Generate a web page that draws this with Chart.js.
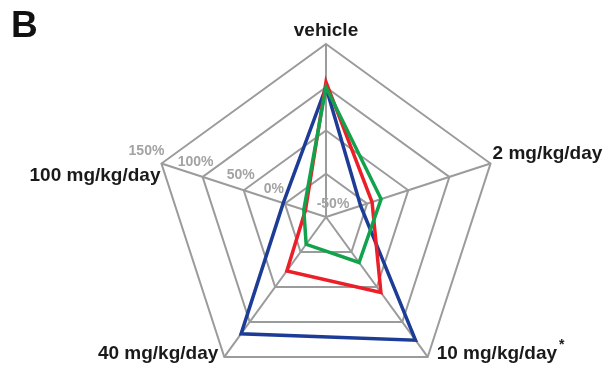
<!DOCTYPE html>
<html>
<head>
<meta charset="utf-8">
<script src="https://cdn.jsdelivr.net/npm/chart.js@4/dist/chart.umd.min.js"></script>
<style>
    html, body { margin: 0; padding: 0; background: #fff; overflow: hidden; width: 608px; height: 370px; }
    #wrap { position: relative; width: 608px; height: 391px; }
</style>
</head>
<body>
<div id="wrap"><canvas id="radar" width="608" height="391"></canvas></div>
<script>
// ----- Data -----
const axisLabels = ['vehicle', '2 mg/kg/day', '10 mg/kg/day', '40 mg/kg/day', '100 mg/kg/day'];
const tickValues = [-50, 0, 50, 100, 150];
const redValues = [106, 6, 58, 27, -25];
const blueValues = [100, -8, 126, 117, 2];
const greenValues = [100, 17, 15, -11, -23];

// ----- Label placement (offset from the vertex) -----
const labelStyle = [
    { align: 'center', dx: 0, dy: -13 },
    { align: 'left', dx: 2, dy: -10 },
    { align: 'left', dx: 9, dy: -3 },
    { align: 'right', dx: -6, dy: -3 },
    { align: 'right', dx: -1, dy: 12 },
];
const tickShiftX = [7, -11, -3, -7, -15];
const tickShiftY = [-13, -14, -15, -15, -12];

// ----- Plugins -----
const panelLetter = {
    id: 'panelLetter',
    afterDraw(chart) {
        const c = chart.ctx;
        c.save();
        c.fillStyle = '#111';
        c.font = 'bold 37px "Liberation Sans", Arial, sans-serif';
        c.textAlign = 'left';
        c.textBaseline = 'alphabetic';
        c.fillText('B', 11, 37);
        c.restore();
    }
};

const axisText = {
    id: 'axisText',
    afterDraw(chart) {
        const scale = chart.scales.r;
        const c = chart.ctx;
        c.save();

        // tick labels along the 100 mg/kg/day axis
        c.fillStyle = '#a3a3a3';
        c.font = 'bold 14px "Liberation Sans", Arial, sans-serif';
        c.textAlign = 'center';
        c.textBaseline = 'middle';
        tickValues.forEach((v, i) => {
            const p = scale.getPointPositionForValue(4, v);
            c.fillText(v + '%', p.x + tickShiftX[i], p.y + tickShiftY[i]);
        });

        // category labels
        c.fillStyle = '#1a1a1a';
        c.font = 'bold 19px "Liberation Sans", Arial, sans-serif';
        c.textBaseline = 'middle';
        axisLabels.forEach((label, i) => {
            const p = scale.getPointPosition(i, scale.drawingArea);
            const s = labelStyle[i];
            c.textAlign = s.align;
            c.fillText(label, p.x + s.dx, p.y + s.dy);
            if (i === 2) {
                const w = c.measureText(label).width;
                c.font = 'bold 14px "Liberation Sans", Arial, sans-serif';
                c.textAlign = 'left';
                c.fillText('*', p.x + s.dx + w + 2, p.y + s.dy - 9);
                c.font = 'bold 19px "Liberation Sans", Arial, sans-serif';
            }
        });
        c.restore();
    }
};

// ----- Chart -----
function makeSet(values, color) {
    return {
        data: values,
        borderColor: color,
        borderWidth: 3.5,
        backgroundColor: 'transparent',
        fill: false,
        pointRadius: 0,
        pointHoverRadius: 0,
        borderJoinStyle: 'miter',
        tension: 0,
    };
}

const chart = new Chart(document.getElementById('radar'), {
    type: 'radar',
    data: {
        labels: axisLabels,
        datasets: [
            makeSet(greenValues, '#12a24c'),
            makeSet(redValues, '#ec1e27'),
            makeSet(blueValues, '#1d3c96'),
        ]
    },
    options: {
        responsive: false,
        animation: false,
        devicePixelRatio: 1,
        layout: { padding: { left: 153, right: 109, top: 44, bottom: 1 } },
        plugins: {
            legend: { display: false },
            tooltip: { enabled: false },
        },
        scales: {
            r: {
                min: -50,
                max: 150,
                ticks: { display: false, stepSize: 50 },
                pointLabels: { display: false },
                grid: { color: '#9b9b9b', lineWidth: 2 },
                angleLines: { color: '#9b9b9b', lineWidth: 2 },
            }
        }
    },
    plugins: [panelLetter, axisText],
});
</script>
</body>
</html>
